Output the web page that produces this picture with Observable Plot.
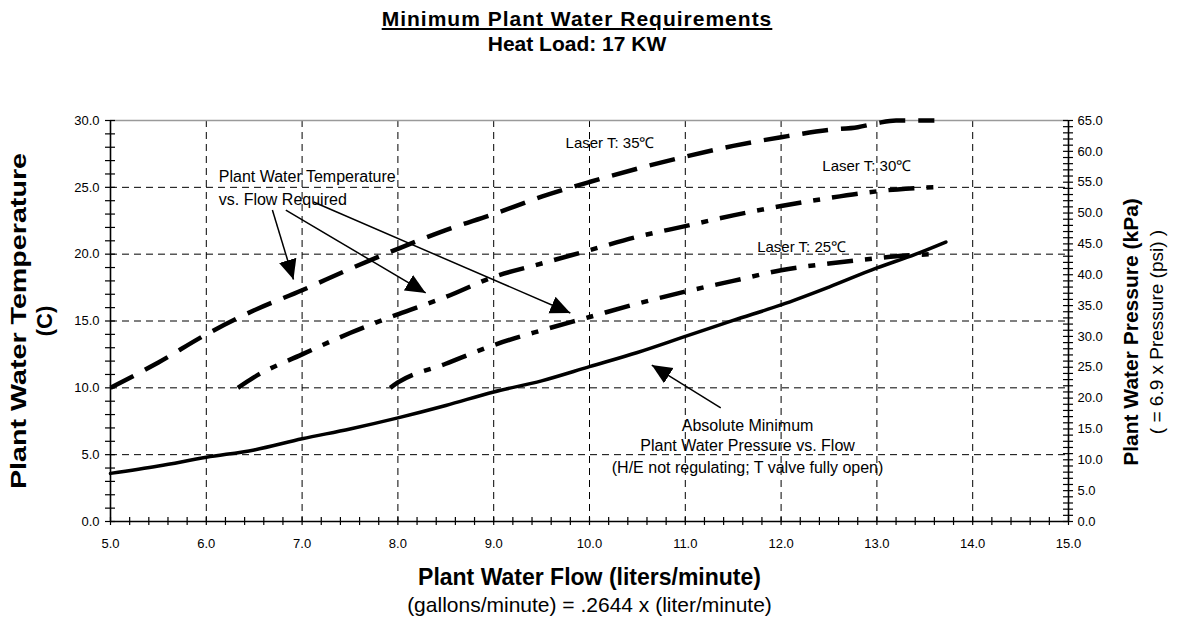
<!DOCTYPE html>
<html><head><meta charset="utf-8">
<script src="https://cdn.jsdelivr.net/npm/d3@7"></script>
<script src="https://cdn.jsdelivr.net/npm/@observablehq/plot@0.6"></script>
<style>
body{margin:0;background:#fff;font-family:"Liberation Sans",Arial,sans-serif;}
#titles{position:relative;width:1177px;height:55px;}
#titles div{position:absolute;left:0;width:1154px;text-align:center;font-weight:bold;font-size:21px;color:#000;white-space:nowrap;}
#t1{top:7px;text-decoration:underline;letter-spacing:1px;}
#t2{top:32px;}
</style></head><body>
<div id="titles"><div id="t1">Minimum Plant Water Requirements</div><div id="t2">Heat Load: 17 KW</div></div>
<div id="chart"></div>
<script>
// Laser T: 35°C  (flow l/min, plant water temperature °C)
const flow35 = [5.0, 5.5, 6.0, 6.5, 7.0, 7.5, 8.0, 8.5, 9.0, 9.5, 10.0, 10.5, 11.0, 11.5, 12.0, 12.5, 12.8, 13.0, 13.2, 13.6];
const temp35 = [10.0, 11.9, 14.0, 15.8, 17.3, 18.9, 20.4, 21.8, 23.0, 24.3, 25.4, 26.4, 27.3, 28.1, 28.75, 29.3, 29.5, 29.8, 30.0, 30.0];
// Laser T: 30°C
const flow30 = [6.33, 6.5, 7.0, 7.5, 8.0, 8.5, 9.0, 9.5, 10.0, 10.5, 11.0, 11.5, 12.0, 12.5, 13.0, 13.3, 13.6];
const temp30 = [10.0, 10.8, 12.5, 14.1, 15.5, 16.8, 18.3, 19.3, 20.3, 21.3, 22.1, 22.9, 23.6, 24.2, 24.7, 24.9, 25.0];
// Laser T: 25°C
const flow25 = [7.92, 8.0, 8.5, 9.0, 9.5, 10.0, 10.5, 11.0, 11.5, 12.0, 12.5, 13.0, 13.3, 13.6];
const temp25 = [10.0, 10.4, 11.8, 13.2, 14.3, 15.3, 16.3, 17.2, 18.0, 18.8, 19.3, 19.7, 19.9, 20.0];
// Absolute minimum plant water pressure (kPa) vs flow
const flowP = [5.0, 5.5, 6.0, 6.5, 7.0, 7.5, 8.0, 8.5, 9.0, 9.5, 10.0, 10.5, 11.0, 11.5, 12.0, 12.5, 13.0, 13.4, 13.72];
const pressP = [7.8, 9.0, 10.4, 11.6, 13.4, 15.0, 16.8, 18.8, 21.0, 22.8, 25.1, 27.4, 30.0, 32.6, 35.1, 38.0, 41.1, 43.3, 45.3];

// ticks
const xMajor = [5, 6, 7, 8, 9, 10, 11, 12, 13, 14, 15];
const xGridVals = [6, 7, 8, 9, 10, 11, 12, 13, 14];
const yMajor = [0, 5, 10, 15, 20, 25, 30];
const yGridVals = [5, 10, 15, 20, 25];
const kpaMajor = [0, 5, 10, 15, 20, 25, 30, 35, 40, 45, 50, 55, 60, 65];
const xMinor = d3.range(0, 51).map(i => 5 + i * 0.2);
const yMinor = d3.range(0, 31);
const kpaMinor = d3.range(0, 66);

// annotations
const labelText = ["Laser T: 35\u2103", "Laser T: 30\u2103", "Laser T: 25\u2103"];
const labelX = [9.75, 12.43, 11.75];
const labelY = [28.3, 26.6, 20.5];
const noteTempLines = ["Plant Water Temperature", "vs. Flow Required"];
const noteTempX = [6.13, 6.13];
const noteTempY = [25.75, 24.06];
const notePressLines = ["Absolute Minimum", "Plant Water Pressure vs. Flow", "(H/E not regulating; T valve fully open)"];
const notePressX = [11.65, 11.65, 11.65];
const notePressY = [7.19, 5.64, 3.98];
const arrowX1 = [6.69, 6.83, 7.12, 11.37];
const arrowY1 = [23.3, 23.3, 23.9, 8.5];
const arrowX2 = [6.91, 8.29, 9.80, 10.65];
const arrowY2 = [18.1, 17.1, 15.6, 11.7];

const KPA_MAX = 65, C_MAX = 30;
const toC = v => v * C_MAX / KPA_MAX;

const font = "Liberation Sans, Arial, sans-serif";
const tickRule = (vals, key, inset) => key === "x"
  ? Plot.ruleX(vals, {x: d => d, y1: 0, y2: 0, insetTop: -inset, insetBottom: -inset, stroke: "#000", strokeWidth: 1.2})
  : Plot.ruleY(vals, {y: d => d, x1: key, x2: key, insetLeft: -inset, insetRight: -inset, stroke: "#000", strokeWidth: 1.2});

const chart = Plot.plot({
  width: 1177, height: 566,
  marginLeft: 110, marginRight: 109, marginTop: 65, marginBottom: 100,
  x: {domain: [5, 15]},
  y: {domain: [0, 30]},
  style: {fontFamily: font, background: "#fff", color: "#000", overflow: "visible"},
  marks: [
    Plot.gridX(xGridVals, {stroke: "#000", strokeOpacity: 1, strokeWidth: 1, strokeDasharray: "7,5"}),
    Plot.gridY(yGridVals, {stroke: "#000", strokeOpacity: 1, strokeWidth: 1, strokeDasharray: "7,5"}),
    Plot.ruleY([30], {stroke: "#9a9a9a", strokeWidth: 1.6}),
    Plot.ruleX([5, 15], {stroke: "#000", strokeWidth: 1.6}),
    Plot.ruleY([0], {stroke: "#000", strokeWidth: 1.6}),
    tickRule(xMinor, "x", 4),
    tickRule(yMinor, 5, 5),
    tickRule(kpaMinor.map(toC), 15, 5),
    Plot.axisX(xMajor, {tickSize: 0, tickPadding: 17, fontSize: 13, tickFormat: d => d.toFixed(1), label: null}),
    Plot.axisY(yMajor, {anchor: "left", tickSize: 0, tickPadding: 11, fontSize: 13, tickFormat: d => d.toFixed(1), label: null}),
    Plot.axisY(kpaMajor.map(toC), {anchor: "right", tickSize: 0, tickPadding: 9, fontSize: 13, tickFormat: d => (Math.round(d * KPA_MAX / C_MAX * 10) / 10).toFixed(1), label: null}),
    // curves
    Plot.line(temp35, {x: flow35, y: temp35, stroke: "#000", strokeWidth: 4.5, strokeDasharray: "26,13", strokeLinecap: "butt", curve: "monotone-x"}),
    Plot.line(temp30, {x: flow30, y: temp30, stroke: "#000", strokeWidth: 4.5, strokeDasharray: "26,12,7,12", strokeLinecap: "butt", curve: "monotone-x"}),
    Plot.line(temp25, {x: flow25, y: temp25, stroke: "#000", strokeWidth: 4.5, strokeDasharray: "26,12,7,12", strokeLinecap: "butt", curve: "monotone-x"}),
    Plot.line(pressP, {x: flowP, y: pressP.map(toC), stroke: "#000", strokeWidth: 3.5, curve: "monotone-x"}),
    // arrows
    Plot.link(arrowX1, {x1: arrowX1, y1: arrowY1, x2: arrowX2, y2: arrowY2, stroke: "#000", strokeWidth: 1.5, markerEnd: "arrow"}),
    // annotation texts
    Plot.text(labelText, {x: labelX, y: labelY, text: d => d, textAnchor: "start", fontSize: 15, fill: "#000"}),
    Plot.text(noteTempLines, {x: noteTempX, y: noteTempY, text: d => d, textAnchor: "start", fontSize: 16, fill: "#000"}),
    Plot.text(notePressLines, {x: notePressX, y: notePressY, text: d => d, textAnchor: "middle", fontSize: 16, fill: "#000"}),
    // axis titles
    Plot.text(["Plant Water Temperature"], {frameAnchor: "left", dx: -92, rotate: -90, textAnchor: "middle", fontWeight: "bold", fontSize: 22, fill: "#000"}),
    Plot.text(["(C)"], {frameAnchor: "left", dx: -66, rotate: -90, textAnchor: "middle", fontWeight: "bold", fontSize: 22, fill: "#000"}),
    Plot.text(["Plant Water Pressure (kPa)"], {frameAnchor: "right", dx: 63, dy: 11, rotate: -90, textAnchor: "middle", fontWeight: "bold", fontSize: 21, fill: "#000"}),
    Plot.text(["( = 6.9 x Pressure (psi) )"], {frameAnchor: "right", dx: 88, dy: 11, rotate: -90, textAnchor: "middle", fontSize: 19, fill: "#000"}),
    Plot.text(["Plant Water Flow (liters/minute)"], {frameAnchor: "bottom", dy: 63, textAnchor: "middle", fontWeight: "bold", fontSize: 23, fill: "#000"}),
    Plot.text(["(gallons/minute) = .2644 x (liter/minute)"], {frameAnchor: "bottom", dy: 90, textAnchor: "middle", fontSize: 21, fill: "#000"})
  ]
});
document.getElementById("chart").appendChild(chart);

const svg = d3.select(chart);
// stretch the left axis title along its length, as in the reference
svg.selectAll("text").filter(function() { return this.textContent === "Plant Water Temperature" && this.getAttribute("font-weight") !== null || (this.textContent === "Plant Water Temperature" && this.closest('g') && this.closest('g').getAttribute("font-weight") === "bold"); })
  .attr("textLength", 336).attr("lengthAdjust", "spacingAndGlyphs");

// filled triangular arrowheads for the annotation arrows
const defs = svg.insert("defs", ":first-child");
defs.append("marker")
  .attr("id", "filled-head").attr("viewBox", "0 0 20 20")
  .attr("markerUnits", "userSpaceOnUse").attr("markerWidth", 20).attr("markerHeight", 20)
  .attr("refX", 20).attr("refY", 10).attr("orient", "auto")
  .append("path").attr("d", "M0,1L20,10L0,19Z").attr("fill", "#000");
svg.selectAll('g[aria-label="link"] path').attr("marker-end", "url(#filled-head)");
</script>
</body></html>
